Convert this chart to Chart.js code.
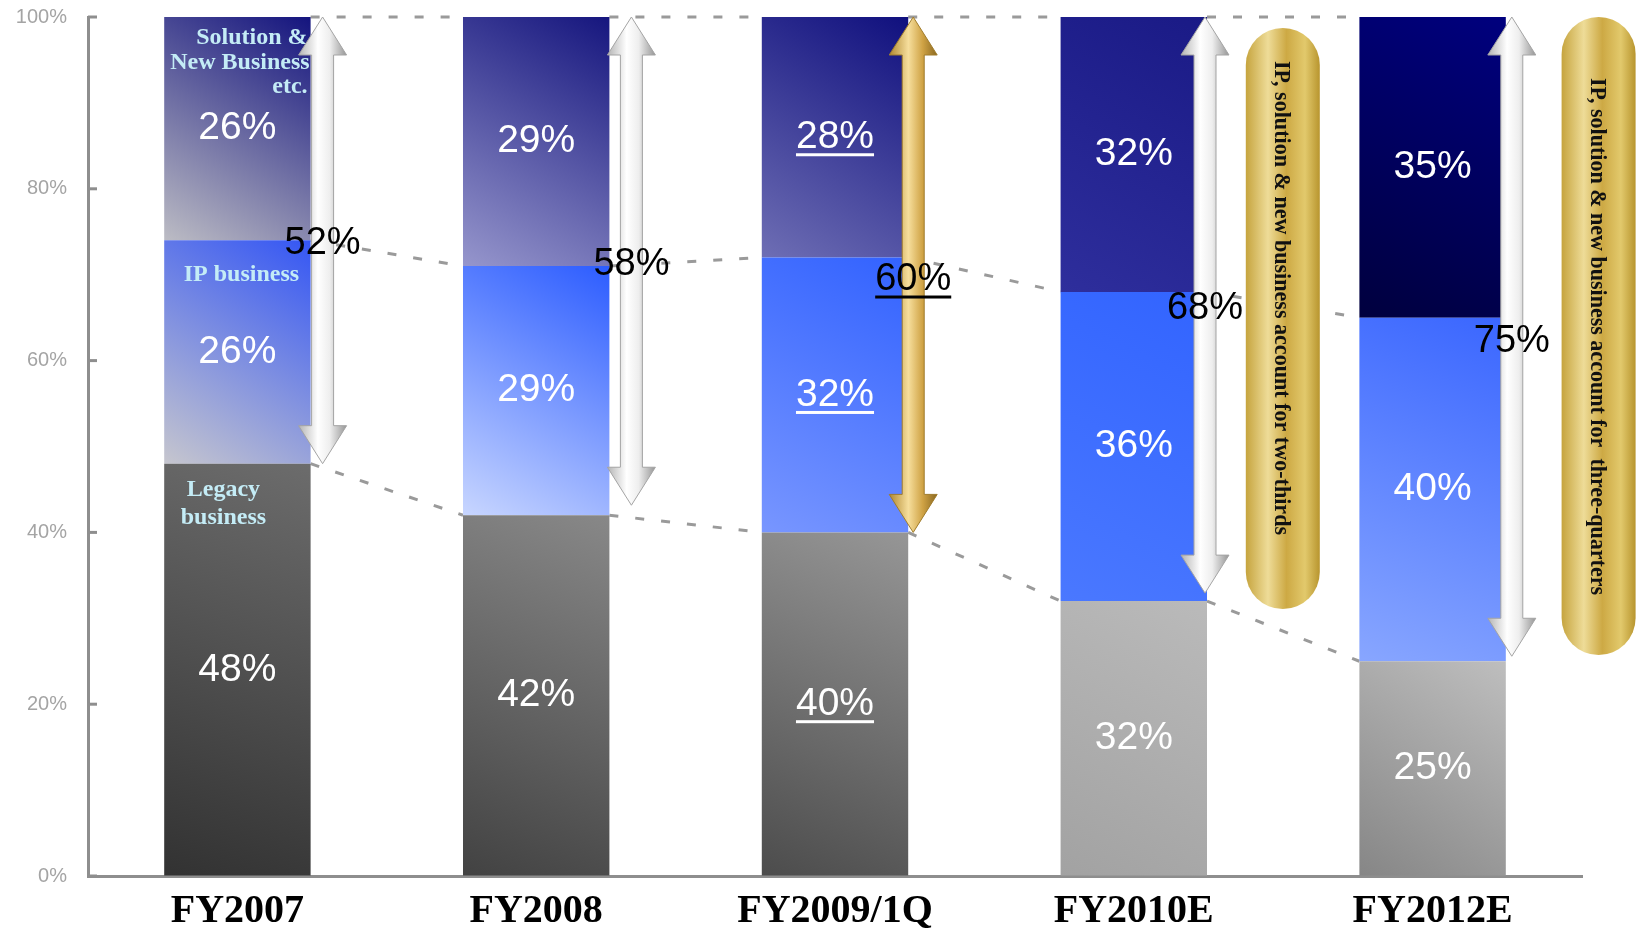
<!DOCTYPE html>
<html>
<head>
<meta charset="utf-8">
<script src="https://cdn.jsdelivr.net/npm/chart.js@4.4.0/dist/chart.umd.min.js"></script>
<style>
html,body{margin:0;padding:0;background:#fff;}
#wrap{width:1637px;height:929px;position:relative;}
</style>
</head>
<body>
<div id="wrap"><canvas id="shareChart"></canvas></div>
<script>
var categories = ['FY2007', 'FY2008', 'FY2009/1Q', 'FY2010E', 'FY2012E'];
var legacyShare = [48, 42, 40, 32, 25];
var ipShare = [26, 29, 32, 36, 40];
var solutionShare = [26, 29, 28, 32, 35];
var combinedShare = [52, 58, 60, 68, 75];
var yTicks = [0, 20, 40, 60, 80, 100];
var pillNotes = ['IP, solution & new business account for two-thirds',
                 'IP, solution & new business account for  three-quarters'];
var highlighted = 2; // FY2009/1Q is underlined and gets the gold arrow

// gradient colours per bar: [bottom-left, top-right]
var legacyColors = [['#323232', '#6c6c6c'], ['#424242', '#888888'], ['#4c4c4c', '#969696'], ['#a2a2a2', '#bababa'], ['#868686', '#bebebe']];
var ipColors = [['#c6c6ce', '#3456f4'], ['#c8d6ff', '#2c5cff'], ['#7896ff', '#3262ff'], ['#4a78ff', '#3264ff'], ['#88a6ff', '#3a66ff']];
var solutionColors = [['#bcbcc4', '#14147e'], ['#9696cc', '#16167e'], ['#6e6eb4', '#10107e'], ['#2e2e9c', '#1a1a86'], ['#00003e', '#00007e']];

// layout tweaks (pixels)
var arrowDx = [12, 22, 5, -2, 6];
var arrowLift = [0, 10, 0, 8, 5];
var combinedDy = [3, -2, 22, 17, 24];
var pills = [
    {cat: 3, dx: 149, top: 28, bottom: 609, textTop: 61, textLen: 474},
    {cat: 4, dx: 166, top: 17, bottom: 655, textTop: 78, textLen: 517}
];

var sansFont = '"Liberation Sans", Arial, Helvetica, sans-serif';
var serifFont = '"Liberation Serif", "Times New Roman", serif';

function barHalf(chart){
    return chart.scales.x.width / categories.length * 0.49 / 2;
}

function segmentFill(colors){
    return function(c){
        var chart = c.chart, x = chart.scales.x, y = chart.scales.y;
        if(!chart.chartArea || !x || !y){return colors[c.dataIndex][1];}
        var i = c.dataIndex, base = 0;
        for(var k = 0; k < c.datasetIndex; k++){ base += chart.data.datasets[k].data[i]; }
        var top = base + chart.data.datasets[c.datasetIndex].data[i];
        var cx = x.getPixelForValue(i), half = barHalf(chart);
        var g = chart.ctx.createLinearGradient(cx - half, y.getPixelForValue(base), cx + half, y.getPixelForValue(top));
        g.addColorStop(0, colors[i][0]);
        g.addColorStop(1, colors[i][1]);
        return g;
    };
}

function label(ctx, text, x, y, font, color, underline){
    ctx.font = font;
    ctx.fillStyle = color;
    ctx.textAlign = 'center';
    ctx.textBaseline = 'middle';
    ctx.fillText(text, x, y);
    if(underline){
        var w = ctx.measureText(text).width;
        ctx.fillRect(x - w / 2, y + 16, w, 3);
    }
}

function doubleArrow(ctx, cx, yTop, yBot, gold){
    var sw = 11, hw = 24, hl = 38;
    ctx.beginPath();
    ctx.moveTo(cx, yTop);
    ctx.lineTo(cx + hw, yTop + hl);
    ctx.lineTo(cx + sw, yTop + hl);
    ctx.lineTo(cx + sw, yBot - hl);
    ctx.lineTo(cx + hw, yBot - hl);
    ctx.lineTo(cx, yBot);
    ctx.lineTo(cx - hw, yBot - hl);
    ctx.lineTo(cx - sw, yBot - hl);
    ctx.lineTo(cx - sw, yTop + hl);
    ctx.lineTo(cx - hw, yTop + hl);
    ctx.closePath();
    var g = ctx.createLinearGradient(cx - hw, 0, cx + hw, 0);
    if(gold){
        g.addColorStop(0, '#b08830'); g.addColorStop(0.4, '#f6de9c');
        g.addColorStop(0.7, '#cfa244'); g.addColorStop(1, '#8a6820');
    } else {
        g.addColorStop(0, '#b4b4b4'); g.addColorStop(0.4, '#ffffff');
        g.addColorStop(0.65, '#eeeeee'); g.addColorStop(1, '#959595');
    }
    ctx.fillStyle = g;
    ctx.fill();
    ctx.strokeStyle = gold ? '#a07c2c' : '#a4a4a4';
    ctx.lineWidth = 1;
    ctx.stroke();
}

var connectors = {
    id: 'connectors',
    beforeDatasetsDraw: function(chart){
        var ctx = chart.ctx, x = chart.scales.x, y = chart.scales.y, half = barHalf(chart);
        ctx.save();
        ctx.strokeStyle = '#9a9a9a';
        ctx.lineWidth = 3;
        ctx.setLineDash([9, 17]);
        for(var i = 0; i < categories.length - 1; i++){
            var a = [100, legacyShare[i] + ipShare[i], legacyShare[i]];
            var b = [100, legacyShare[i + 1] + ipShare[i + 1], legacyShare[i + 1]];
            for(var k = 0; k < 3; k++){
                ctx.beginPath();
                ctx.moveTo(x.getPixelForValue(i) + half, y.getPixelForValue(a[k]));
                ctx.lineTo(x.getPixelForValue(i + 1) - half, y.getPixelForValue(b[k]));
                ctx.stroke();
            }
        }
        ctx.restore();
    }
};

var annotations = {
    id: 'annotations',
    afterDatasetsDraw: function(chart){
        var ctx = chart.ctx, x = chart.scales.x, y = chart.scales.y, half = barHalf(chart);
        ctx.save();

        // inward tick marks on the y axis
        ctx.strokeStyle = '#8e8e8e';
        ctx.lineWidth = 3;
        yTicks.forEach(function(v){
            var py = y.getPixelForValue(v);
            ctx.beginPath();
            ctx.moveTo(x.left, py);
            ctx.lineTo(x.left + 9, py);
            ctx.stroke();
        });

        var pctFont = '39px ' + sansFont;
        categories.forEach(function(cat, i){
            var cx = x.getPixelForValue(i);
            var cum = [0, legacyShare[i], legacyShare[i] + ipShare[i], legacyShare[i] + ipShare[i] + solutionShare[i]];
            [legacyShare, ipShare, solutionShare].forEach(function(arr, d){
                var mid = (y.getPixelForValue(cum[d]) + y.getPixelForValue(cum[d + 1])) / 2;
                label(ctx, arr[i] + '%', cx, mid, pctFont, '#ffffff', i === highlighted);
            });
        });

        // segment names on the first bar
        var c0 = x.getPixelForValue(0);
        var nameFont = 'bold 24px ' + serifFont;
        ctx.font = nameFont;
        ctx.fillStyle = '#c4ecf6';
        ctx.textBaseline = 'middle';
        ctx.textAlign = 'right';
        var top0 = y.getPixelForValue(100);
        ctx.fillText('Solution &', c0 + half - 3, top0 + 21);
        ctx.fillText('New Business', c0 + half - 1, top0 + 46);
        ctx.fillText('etc.', c0 + half - 3, top0 + 70);
        ctx.textAlign = 'center';
        ctx.fillText('IP business', c0 + 4, y.getPixelForValue(legacyShare[0] + ipShare[0]) + 34);
        ctx.fillText('Legacy', c0 - 14, y.getPixelForValue(legacyShare[0]) + 26);
        ctx.fillText('business', c0 - 14, y.getPixelForValue(legacyShare[0]) + 54);

        // arrows and combined shares
        categories.forEach(function(cat, i){
            var ax = x.getPixelForValue(i) + half + arrowDx[i];
            doubleArrow(ctx, ax, y.getPixelForValue(100), y.getPixelForValue(legacyShare[i]) - arrowLift[i], i === highlighted);
        });
        categories.forEach(function(cat, i){
            var ax = x.getPixelForValue(i) + half + arrowDx[i];
            var py = y.getPixelForValue(legacyShare[i] + ipShare[i]) + combinedDy[i];
            label(ctx, combinedShare[i] + '%', ax, py, '38px ' + sansFont, '#000000', i === highlighted);
        });

        // gold pills with vertical notes
        pills.forEach(function(p, n){
            var cx = x.getPixelForValue(p.cat) + p.dx, w = 74, r = w / 2;
            var g = ctx.createLinearGradient(cx - r, 0, cx + r, 0);
            g.addColorStop(0, '#c6a43e');
            g.addColorStop(0.3, '#eedc98');
            g.addColorStop(0.55, '#cda944');
            g.addColorStop(0.8, '#e2c96c');
            g.addColorStop(1, '#b8952e');
            ctx.fillStyle = g;
            ctx.beginPath();
            ctx.moveTo(cx - r, p.top + r);
            ctx.arc(cx, p.top + r, r, Math.PI, 0);
            ctx.lineTo(cx + r, p.bottom - r);
            ctx.arc(cx, p.bottom - r, r, 0, Math.PI);
            ctx.closePath();
            ctx.fill();

            ctx.save();
            ctx.font = 'bold 23px ' + serifFont;
            var tw = ctx.measureText(pillNotes[n]).width;
            ctx.translate(cx - 2, p.textTop);
            ctx.rotate(Math.PI / 2);
            ctx.scale(p.textLen / tw, 1);
            ctx.fillStyle = '#111111';
            ctx.textAlign = 'left';
            ctx.textBaseline = 'middle';
            ctx.fillText(pillNotes[n], 0, 0);
            ctx.restore();
        });

        ctx.restore();
    }
};

new Chart(document.getElementById('shareChart'), {
    type: 'bar',
    data: {
        labels: categories,
        datasets: [
            {label: 'Legacy business', data: legacyShare, backgroundColor: segmentFill(legacyColors)},
            {label: 'IP business', data: ipShare, backgroundColor: segmentFill(ipColors)},
            {label: 'Solution & New Business etc.', data: solutionShare, backgroundColor: segmentFill(solutionColors)}
        ]
    },
    options: {
        responsive: true,
        maintainAspectRatio: false,
        animation: false,
        layout: {padding: {top: 17, right: 55, left: 0, bottom: 0}},
        datasets: {bar: {categoryPercentage: 1, barPercentage: 0.49, borderWidth: 0}},
        plugins: {legend: {display: false}, tooltip: {enabled: false}},
        scales: {
            x: {
                stacked: true,
                grid: {display: true, drawOnChartArea: false, drawTicks: false},
                border: {color: '#8e8e8e', width: 3},
                ticks: {color: '#000', maxRotation: 0, padding: 12,
                        font: {family: serifFont, size: 40, weight: 'bold'}},
                afterFit: function(s){ s.height = 53; }
            },
            y: {
                stacked: true, min: 0, max: 100,
                grid: {display: true, drawOnChartArea: false, drawTicks: false},
                border: {color: '#8e8e8e', width: 3},
                afterBuildTicks: function(s){ s.ticks = yTicks.map(function(v){ return {value: v}; }); },
                ticks: {color: '#a4a4a4', padding: 21, font: {family: sansFont, size: 20},
                        callback: function(v){ return v + '%'; }},
                afterFit: function(s){ s.width = 88; s.paddingTop = 0; s.paddingBottom = 0; }
            }
        }
    },
    plugins: [connectors, annotations]
});
</script>
</body>
</html>
